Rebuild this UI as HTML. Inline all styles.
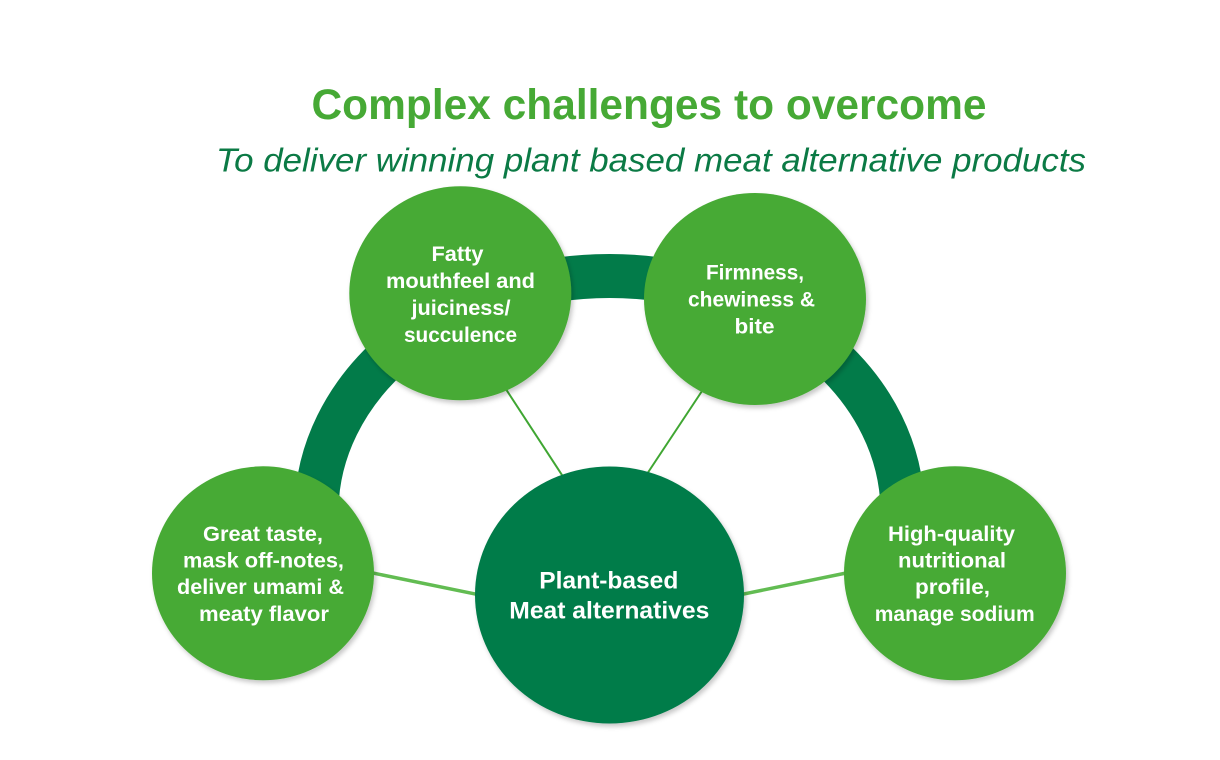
<!DOCTYPE html>
<html>
<head>
<meta charset="utf-8">
<style>
  html,body{margin:0;padding:0;background:#ffffff;}
  body{width:1220px;height:760px;overflow:hidden;}
  svg{display:block;}
  text{font-family:"Liberation Sans", sans-serif;}
  .ct{fill:#ffffff;font-weight:700;font-size:21px;}
</style>
</head>
<body>
<svg width="1220" height="760" viewBox="0 0 1220 760" xmlns="http://www.w3.org/2000/svg">
  <defs>
    <filter id="sh" x="-20%" y="-20%" width="140%" height="140%">
      <feDropShadow dx="2" dy="3" stdDeviation="2.5" flood-color="#000" flood-opacity="0.22"/>
    </filter>
  </defs>

  <!-- Title -->
  <text x="649" y="119" text-anchor="middle" font-size="43" font-weight="700" fill="#46a935" textLength="675" lengthAdjust="spacingAndGlyphs">Complex challenges to overcome</text>
  <text x="651" y="171.5" text-anchor="middle" font-size="33" font-style="italic" fill="#0b7a45" textLength="870" lengthAdjust="spacingAndGlyphs">To deliver winning plant based meat alternative products</text>

  <!-- Ring arc -->
  <path d="M 316.5 512 A 293 236 0 0 1 902.5 512" fill="none" stroke="#027b49" stroke-width="44"/>

  <!-- Connectors -->
  <line x1="363" y1="571" x2="486.5" y2="596.3" stroke="#62bc52" stroke-width="3.5"/>
  <line x1="856" y1="571" x2="732.5" y2="596.3" stroke="#62bc52" stroke-width="3.5"/>
  <line x1="501" y1="381.6" x2="567" y2="482.7" stroke="#3fa632" stroke-width="2"/>
  <line x1="706" y1="385" x2="643" y2="480" stroke="#3fa632" stroke-width="2"/>

  <!-- Circles -->
  <ellipse cx="460.3" cy="293.3" rx="111" ry="107" fill="#47aa35" filter="url(#sh)"/>
  <ellipse cx="755" cy="299" rx="111" ry="106" fill="#47aa35" filter="url(#sh)"/>
  <ellipse cx="263" cy="573.3" rx="111" ry="107" fill="#47aa35" filter="url(#sh)"/>
  <ellipse cx="955" cy="573.3" rx="111" ry="107" fill="#47aa35" filter="url(#sh)"/>
  <ellipse cx="609.5" cy="595" rx="134.5" ry="128.5" fill="#027b49" filter="url(#sh)"/>

  <!-- Top-left text -->
  <text class="ct" x="457.5" y="261" text-anchor="middle" textLength="52" lengthAdjust="spacingAndGlyphs">Fatty</text>
  <text class="ct" x="460.5" y="288" text-anchor="middle" textLength="149" lengthAdjust="spacingAndGlyphs">mouthfeel and</text>
  <text class="ct" x="461" y="315" text-anchor="middle" textLength="99" lengthAdjust="spacingAndGlyphs">juiciness/</text>
  <text class="ct" x="460.5" y="342" text-anchor="middle" textLength="113" lengthAdjust="spacingAndGlyphs">succulence</text>

  <!-- Top-right text -->
  <text class="ct" x="755" y="279.5" text-anchor="middle" textLength="98" lengthAdjust="spacingAndGlyphs">Firmness,</text>
  <text class="ct" x="751.5" y="306.5" text-anchor="middle" textLength="127" lengthAdjust="spacingAndGlyphs">chewiness &amp;</text>
  <text class="ct" x="754.5" y="333.5" text-anchor="middle" textLength="40" lengthAdjust="spacingAndGlyphs">bite</text>

  <!-- Left text -->
  <text class="ct" x="263" y="541" text-anchor="middle" textLength="120" lengthAdjust="spacingAndGlyphs">Great taste,</text>
  <text class="ct" x="263.5" y="567.5" text-anchor="middle" textLength="161" lengthAdjust="spacingAndGlyphs">mask off-notes,</text>
  <text class="ct" x="260.5" y="594" text-anchor="middle" textLength="167" lengthAdjust="spacingAndGlyphs">deliver umami &amp;</text>
  <text class="ct" x="264" y="621" text-anchor="middle" textLength="130" lengthAdjust="spacingAndGlyphs">meaty flavor</text>

  <!-- Center text -->
  <text class="ct" x="608.8" y="588.3" text-anchor="middle" font-size="24" style="font-size:24px" textLength="139" lengthAdjust="spacingAndGlyphs">Plant-based</text>
  <text class="ct" x="609.3" y="618.3" text-anchor="middle" font-size="24" style="font-size:24px" textLength="200" lengthAdjust="spacingAndGlyphs">Meat alternatives</text>

  <!-- Right text -->
  <text class="ct" x="951.5" y="541" text-anchor="middle" textLength="127" lengthAdjust="spacingAndGlyphs">High-quality</text>
  <text class="ct" x="952" y="567.5" text-anchor="middle" textLength="108" lengthAdjust="spacingAndGlyphs">nutritional</text>
  <text class="ct" x="952.5" y="594" text-anchor="middle" textLength="75" lengthAdjust="spacingAndGlyphs">profile,</text>
  <text class="ct" x="954.7" y="621" text-anchor="middle" textLength="160" lengthAdjust="spacingAndGlyphs">manage sodium</text>
</svg>
</body>
</html>
